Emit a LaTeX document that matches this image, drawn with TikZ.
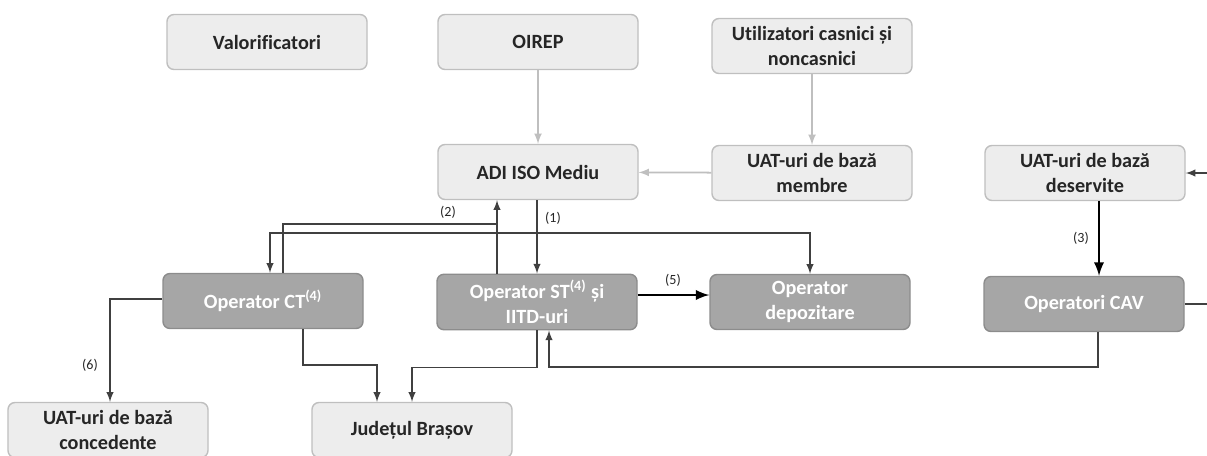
\documentclass[tikz,border=0pt]{standalone}
\usepackage{fontspec}
\setmainfont[Ligatures=NoCommon]{Carlito}
\usetikzlibrary{positioning}
\tikzset{>=latex}
\definecolor{boxfill}{HTML}{EDEDED}
\definecolor{boxedge}{HTML}{BFBFBF}
\definecolor{darkfill}{HTML}{A6A6A6}
\definecolor{darkedge}{HTML}{8C8C8C}
\definecolor{softline}{HTML}{BFBFBF}
\definecolor{hardline}{HTML}{404040}
\definecolor{textdark}{HTML}{262626}
\tikzset{
  lightbox/.style = {
    draw=boxedge, fill=boxfill, line width=0.8pt,
    rounded corners=1.4mm,
    minimum width=40mm, minimum height=11mm,
    align=center, text=textdark,
    font=\bfseries\fontsize{11.5}{14.5}\selectfont
  },
  darkbox/.style = {lightbox, draw=darkedge, fill=darkfill, text=white},
  soft/.style = {->, draw=softline, line width=1pt},
  hard/.style = {->, draw=hardline, line width=0.9pt},
  heavy/.style = {->, draw=black, line width=1.6pt},
  num/.style = {font=\fontsize{8}{9}\selectfont, text=textdark}
}

\begin{document}
\begin{tikzpicture}[x=0.2mm,y=-0.2mm]
  \useasboundingbox (0,0) rectangle (1207,455);
  % top row
  \node[lightbox] (val) at (267,42) {Valorificatori};
  \node[lightbox] (oirep) at (538,42) {OIREP};
  \node[lightbox] (util) at (812,46) {Utilizatori casnici și\\noncasnici};
  % second row
  \node[lightbox] (adi) at (538,172) {ADI ISO Mediu};
  \node[lightbox] (memb) at (812,173) {UAT-uri de bază\\membre};
  \node[lightbox] (deserv) at (1085,173) {UAT-uri de bază\\deservite};
  % operators
  \node[darkbox] (ct) at (263,301) {Operator CT\textsuperscript{(4)}};
  \node[darkbox] (st) at (537,302) {Operator ST\textsuperscript{(4)} și\\IITD-uri};
  \node[darkbox] (dep) at (810,302) {Operator\\depozitare};
  \node[darkbox] (cav) at (1084,304) {Operatori CAV};
  % bottom row
  \node[lightbox] (conc) at (108,430) {UAT-uri de bază\\concedente};
  \node[lightbox] (jud) at (412,430) {Județul Brașov};

  \draw[soft] (oirep) -- (adi);
  \draw[soft] (util) -- (memb);
  \draw[soft] (memb) -- (adi);

  % (1)
  \draw[hard] (adi.south -| st.north) -- (st.north);
  \coordinate (fork) at (st.north |- 0,233);
  \draw[hard] (fork) -| ([xshift=1.4mm]ct.north);
  \draw[hard] (fork) -| (dep.north);
  \node[num] at (553,218) {(1)};

  % (2)
  \coordinate (join) at (497,224);
  \draw[hard,-] ([xshift=4mm]ct.north) |- (join);
  \draw[hard] (st.north -| join) -- (adi.south -| join);
  \node[num] at (448,212) {(2)};

  % (3) and (5)
  \draw[heavy] ([xshift=2.8mm]deserv.south) -- ([xshift=2.8mm]deserv.south |- cav.north);
  \node[num] at (1081,238) {(3)};
  \draw[heavy] ([yshift=1.4mm]st.east) -- ([yshift=1.4mm]dep.west);
  \node[num] at (673,280) {(5)};

  % (6)
  \draw[hard] ([yshift=0.4mm]ct.west) -| ([xshift=0.4mm]conc.north);
  \node[num] at (90,365) {(6)};

  \draw[hard] ([xshift=2.8mm]cav.south) -- ++(0,35) -| ([xshift=2.4mm]st.south);
  \draw[hard] (st.south) -- ++(0,37) -| (jud.north);
  \draw[hard] ([xshift=8mm]ct.south) -- ++(0,36) -| ([xshift=-7mm]jud.north);

  % links leaving the picture
  \coordinate (outA) at (1207,173);
  \coordinate (outB) at (1207,304);
  \draw[hard] (outA) -- (deserv.east);
  \draw[hard,-] (cav.east) -- (outB);
\end{tikzpicture}
\end{document}
